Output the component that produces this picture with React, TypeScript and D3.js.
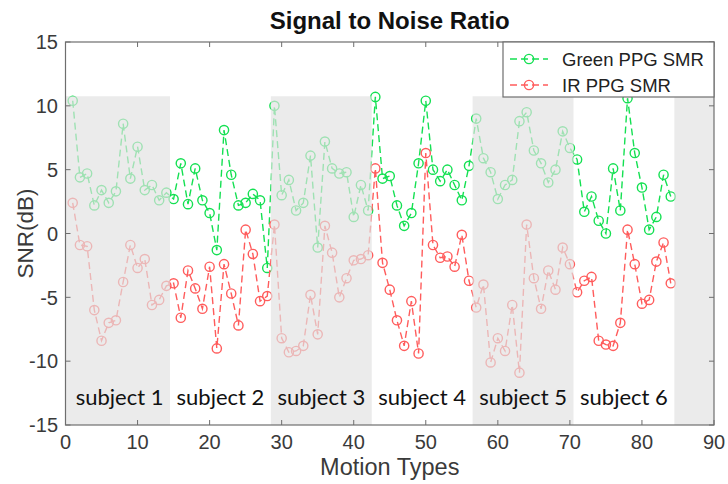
import React from "react";
import * as d3 from "d3";

// Motion type index (14 motions per subject, 6 subjects)
const motionIndex: number[] = Array.from({ length: 84 }, (_, i) => i + 1);

const greenSnr: number[] = [
  10.4, 4.4, 4.7, 2.2, 3.4, 2.4, 3.3, 8.6, 4.3, 6.8, 3.4, 3.8, 2.6, 3.2,
  2.7, 5.5, 2.3, 5.1, 2.6, 1.6, -1.3, 8.1, 4.6, 2.2, 2.4, 3.1, 2.6, -2.7,
  10.0, 3.0, 4.2, 1.8, 2.4, 6.1, -1.1, 7.2, 5.1, 4.7, 4.8, 1.3, 3.8, 1.8,
  10.7, 4.3, 4.5, 2.2, 0.6, 1.6, 5.5, 10.4, 5.0, 4.1, 5.0, 3.8, 2.6, 5.3,
  9.0, 5.9, 4.8, 2.7, 3.8, 4.2, 8.8, 9.5, 6.5, 5.5, 4.0, 5.0, 8.0, 6.7,
  5.8, 1.7, 2.9, 1.0, 0.0, 5.1, 1.8, 10.6, 6.3, 3.6, 0.3, 1.3, 4.6, 2.9,
];

const irSnr: number[] = [
  2.4, -0.9, -1.0, -6.0, -8.4, -7.0, -6.8, -3.8, -0.9, -2.7, -2.0, -5.6, -5.2, -4.1,
  -3.9, -6.6, -2.9, -4.3, -5.9, -2.6, -9.0, -2.4, -4.7, -7.2, 0.3, -1.6, -5.3, -4.9,
  0.7, -8.2, -9.3, -9.2, -8.8, -4.8, -7.9, 0.6, -1.5, -5.0, -3.5, -2.1, -2.0, -1.7,
  5.1, -2.3, -4.4, -6.8, -8.8, -5.3, -9.4, 6.3, -0.9, -1.9, -1.8, -2.6, -0.1, -3.7,
  -5.8, -4.0, -10.1, -8.2, -9.2, -5.6, -10.9, 0.7, -3.5, -5.9, -2.9, -4.4, -1.1, -2.4,
  -4.6, -3.7, -3.4, -8.4, -8.7, -8.8, -7.0, 0.3, -2.4, -5.5, -5.2, -2.2, -0.7, -3.9,
];

const subjects: string[] = ["subject 1", "subject 2", "subject 3", "subject 4", "subject 5", "subject 6"];
const motionsPerSubject = 14;

const xTicks: number[] = [0, 10, 20, 30, 40, 50, 60, 70, 80, 90];
const yTicks: number[] = [-15, -10, -5, 0, 5, 10, 15];

const seriesNames: string[] = ["Green PPG SMR", "IR PPG SMR"];
const seriesColors: string[] = ["#14e052", "#ff5c5c"];

const W = 728;
const H = 484;
const left = 65.5;
const right = 714;
const top = 42;
const bottom = 425;
const bandTop = 10.75;

const FONT = "'Liberation Sans', Arial, Helvetica, sans-serif";

export default function App() {
  const x = d3.scaleLinear().domain([0, 90]).range([left, right]);
  const y = d3.scaleLinear().domain([-15, 15]).range([bottom, top]);

  const line = d3
    .line<number>()
    .x((_, i) => x(motionIndex[i]))
    .y((d) => y(d));

  const series = [greenSnr, irSnr];

  // shaded bands: subjects 1, 3, 5 and the empty tail after the last subject
  const bands: [number, number][] = [];
  subjects.forEach((_, i) => {
    if (i % 2 === 0) {
      const a = i === 0 ? 0 : i * motionsPerSubject + 0.5;
      bands.push([a, (i + 1) * motionsPerSubject + 0.5]);
    }
  });
  bands.push([subjects.length * motionsPerSubject + 0.5, 90]);

  const tickLen = 5;

  return (
    <svg
      width={W}
      height={H}
      style={{ position: "absolute", left: 0, top: 0, background: "#fff" }}
      fontFamily={FONT}
    >
      <rect x={0} y={0} width={W} height={H} fill="#fff" />

      {/* data series */}
      {series.map((vals, s) => (
        <g key={s}>
          <path
            d={line(vals) ?? ""}
            fill="none"
            stroke={seriesColors[s]}
            strokeWidth={1.4}
            strokeDasharray="7,4"
          />
          {vals.map((v, i) => (
            <circle
              key={i}
              cx={x(motionIndex[i])}
              cy={y(v)}
              r={4.6}
              fill="none"
              stroke={seriesColors[s]}
              strokeWidth={1.4}
            />
          ))}
        </g>
      ))}

      {/* translucent subject bands */}
      {bands.map(([a, b], i) => (
        <rect
          key={i}
          x={x(a)}
          y={y(bandTop)}
          width={x(b) - x(a)}
          height={y(-15) - y(bandTop)}
          fill="#e2e2e2"
          fillOpacity={0.68}
        />
      ))}

      {/* subject labels */}
      {subjects.map((s, i) => (
        <text
          key={s}
          x={x(i * motionsPerSubject + 7.5)}
          y={y(-13.45)}
          textAnchor="middle"
          fontFamily="Lato, 'Open Sans', sans-serif"
          fontSize={22}
          fill="#111"
        >
          {s}
        </text>
      ))}

      {/* axes box */}
      <rect x={left} y={top} width={right - left} height={bottom - top} fill="none" stroke="#6e6e6e" strokeWidth={1.2} />

      {/* ticks */}
      {xTicks.map((t) => (
        <g key={"x" + t}>
          <line x1={x(t)} x2={x(t)} y1={bottom} y2={bottom - tickLen} stroke="#6e6e6e" />
          <line x1={x(t)} x2={x(t)} y1={top} y2={top + tickLen} stroke="#6e6e6e" />
          <text x={x(t)} y={449} textAnchor="middle" fontSize={20} fill="#3a3a3a">
            {t}
          </text>
        </g>
      ))}
      {yTicks.map((t) => (
        <g key={"y" + t}>
          <line x1={left} x2={left + tickLen} y1={y(t)} y2={y(t)} stroke="#6e6e6e" />
          <line x1={right} x2={right - tickLen} y1={y(t)} y2={y(t)} stroke="#6e6e6e" />
          <text x={58} y={y(t)} dy="0.36em" textAnchor="end" fontSize={20} fill="#3a3a3a">
            {t}
          </text>
        </g>
      ))}

      {/* titles */}
      <text x={(left + right) / 2} y={29} textAnchor="middle" fontSize={24} fontWeight="bold" fill="#111">
        Signal to Noise Ratio
      </text>
      <text x={(left + right) / 2} y={475} textAnchor="middle" fontSize={23.5} fill="#3a3a3a">
        Motion Types
      </text>
      <text
        transform={`translate(33, ${(top + bottom) / 2}) rotate(-90)`}
        textAnchor="middle"
        fontSize={22.5}
        fill="#3a3a3a"
      >
        SNR(dB)
      </text>

      {/* legend */}
      <g>
        <rect x={503} y={top} width={right - 503} height={55} fill="#fff" stroke="#6e6e6e" strokeWidth={1.2} />
        {seriesNames.map((n, i) => {
          const ly = 59 + i * 26;
          return (
            <g key={n}>
              <line x1={510} x2={548} y1={ly} y2={ly} stroke={seriesColors[i]} strokeWidth={1.4} strokeDasharray="7,4" />
              <circle cx={529} cy={ly} r={4.6} fill="none" stroke={seriesColors[i]} strokeWidth={1.4} />
              <text x={562} y={ly} dy="0.36em" fontSize={18.5} fill="#222">
                {n}
              </text>
            </g>
          );
        })}
      </g>
    </svg>
  );
}
